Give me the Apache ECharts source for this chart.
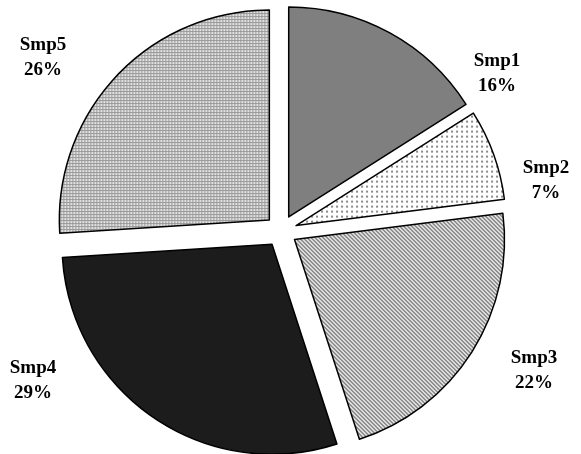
<!DOCTYPE html>
<html>
<head>
<meta charset="utf-8">
<script src="https://cdn.jsdelivr.net/npm/echarts@6/dist/echarts.min.js"></script>
<style>
html, body { margin: 0; padding: 0; background: #fff; }
#chart { width: 581px; height: 454px; }
</style>
</head>
<body>
<div id="chart"></div>
<script>
// data
const sampleNames = ['Smp1', 'Smp2', 'Smp3', 'Smp4', 'Smp5'];
const sampleShares = [16, 7, 22, 29, 26];

// where each label block sits (centre of the two lines), px
const labelSpots = [[497, 74], [546, 181], [534, 371], [33, 381], [43, 58]];

// little canvas tiles for the Excel style fills
function makeTile(w, h, draw) {
    let c = document.createElement('canvas');
    c.width = w;
    c.height = h;
    let ctx = c.getContext('2d');
    draw(ctx);
    return { image: c, repeat: 'repeat' };
}

const dotFill = makeTile(5, 5, (ctx) => {
    ctx.fillStyle = '#ffffff';
    ctx.fillRect(0, 0, 5, 5);
    ctx.fillStyle = '#8a8a8a';
    ctx.fillRect(1, 1, 2, 2);
});

const hatchFill = makeTile(4, 4, (ctx) => {
    ctx.fillStyle = '#ffffff';
    ctx.fillRect(0, 0, 4, 4);
    ctx.fillStyle = '#6e6e6e';
    // downward diagonal stripes
    for (let i = 0; i < 4; i++) {
        ctx.fillRect(i, i, 1, 1);
        ctx.fillRect((i + 1) % 4, i, 1, 1);
    }
});

const fineFill = makeTile(3, 3, (ctx) => {
    ctx.fillStyle = '#e2e2e2';
    ctx.fillRect(0, 0, 3, 3);
    ctx.fillStyle = '#9a9a9a';
    ctx.fillRect(0, 0, 3, 1);
    ctx.fillRect(0, 0, 1, 3);
});

const sliceFills = ['#7f7f7f', dotFill, hatchFill, '#1c1c1c', fineFill];

let total = sampleShares.reduce((a, b) => a + b, 0);

let myChart = echarts.init(document.getElementById('chart'));

let option = {
    animation: false,
    // labels as free text, Excel put them wherever it liked
    graphic: sampleNames.map((name, i) => ({
        type: 'text',
        x: labelSpots[i][0],
        y: labelSpots[i][1],
        silent: true,
        style: {
            text: name + '\n' + Math.round(sampleShares[i] / total * 100) + '%',
            fontFamily: 'Liberation Serif',
            fontWeight: 'bold',
            fontSize: 19,
            lineHeight: 25,
            fill: '#000',
            align: 'center',
            verticalAlign: 'middle'
        }
    })),
    series: [
        {
            type: 'pie',
            center: [281, 231],
            radius: [0, 210],
            startAngle: 90,
            clockwise: true,
            selectedMode: 'multiple',
            selectedOffset: 16,
            emphasis: { disabled: true },
            itemStyle: {
                borderColor: '#000',
                borderWidth: 1.5
            },
            label: { show: false },
            labelLine: { show: false },
            data: sampleNames.map((name, i) => ({
                name: name,
                value: sampleShares[i],
                selected: true,
                itemStyle: { color: sliceFills[i] },
                select: { itemStyle: { color: sliceFills[i], borderColor: '#000', borderWidth: 1.5 } }
            }))
        }
    ]
};

myChart.setOption(option);
</script>
</body>
</html>
